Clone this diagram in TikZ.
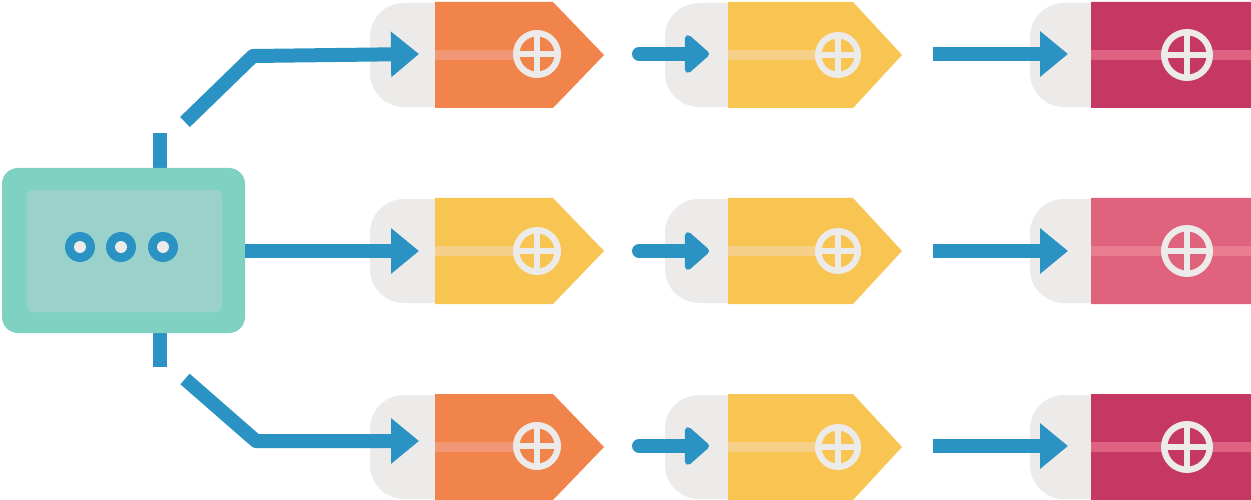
\documentclass[tikz,border=0pt]{standalone}
\usetikzlibrary{arrows.meta}
\definecolor{cblue}{HTML}{2B93C3}
\definecolor{cgray}{HTML}{EDEBEA}
\definecolor{cgreen}{HTML}{7FD1C1}
\definecolor{clgreen}{HTML}{9AD2CB}
\definecolor{corange}{HTML}{F0844A}
\definecolor{corangest}{HTML}{F29775}
\definecolor{cyellow}{HTML}{F8C552}
\definecolor{cyellowst}{HTML}{F6D088}
\definecolor{ccrimson}{HTML}{C63864}
\definecolor{ccrimsonst}{HTML}{DE6382}
\definecolor{cpink}{HTML}{E0637E}
\definecolor{cpinkst}{HTML}{EA7D90}
\tikzset{
  arr/.style={draw=cblue, line width=14pt, line join=round, -{Triangle[length=28pt,width=44pt]}},
  sarr/.style={draw=cblue, line width=14pt, line cap=round, line join=round, -{Triangle[length=26pt,width=44pt,round]}},
  hubbox/.style={fill=cgreen, rounded corners=16pt, inner sep=0pt},
  hubinner/.style={fill=clgreen, rounded corners=6pt, inner sep=0pt},
}
% icon: #1 x, #2 y, #3 radius, #4 colour
\newcommand\myicon[4]{%
  \fill[cgray] (#1,#2) circle (#3);
  \fill[#4] (#1,#2) circle (#3-6.5);
  \fill[cgray] (#1-#3+1,#2-2.8) rectangle (#1+#3-1,#2+2.8);
  \fill[cgray] (#1-2.8,#2-#3+1) rectangle (#1+2.8,#2+#3-1);
}
% #1 gray left x, #2 rect start x, #3 rect end x, #4 tip x, #5 center y, #6 colour, #7 stripe colour, #8 stripe end x
\newcommand\mytag[8]{%
  \fill[cgray, rounded corners=34pt] (#1,#5-52) rectangle (#2+40,#5+52);
  \fill[#6] (#2,#5-53) -- (#3,#5-53) -- (#4,#5) -- (#3,#5+53) -- (#2,#5+53) -- cycle;
  \fill[#7] (#2,#5-5) rectangle (#8,#5+5);
}
\begin{document}
\begin{tikzpicture}[x=1pt,y=-1pt]
\useasboundingbox (0,0) rectangle (1251,500);
% stubs
\fill[cblue] (153,133) rectangle (167,170);
\fill[cblue] (153,331) rectangle (167,367);
% hub
\node[hubbox, minimum width=243pt, minimum height=165pt] (hub) at (123.5,250.5) {};
\node[hubinner, minimum width=195pt, minimum height=122pt] (hubin) at (124.5,251) {};
\foreach \x/\n in {80/d1,121/d2,163/d3}{
  \fill[cblue] (\x,247) circle (15);
  \fill[cgray] (\x,247) circle (6);
}
% row 1
\mytag{370}{435}{553}{604}{55}{corange}{corangest}{537}
\myicon{537}{54}{24}{corange}
\mytag{665}{728}{853}{902}{55}{cyellow}{cyellowst}{838}
\myicon{838}{55}{23}{cyellow}
\mytag{1030}{1091}{1251}{1251}{55}{ccrimson}{ccrimsonst}{1251}
\myicon{1187}{55}{26}{ccrimson}
% row 2
\mytag{370}{435}{553}{604}{251}{cyellow}{cyellowst}{537}
\myicon{537}{251}{24}{cyellow}
\mytag{665}{728}{853}{902}{251}{cyellow}{cyellowst}{838}
\myicon{838}{251}{23}{cyellow}
\mytag{1030}{1091}{1251}{1251}{251}{cpink}{cpinkst}{1251}
\myicon{1187}{251}{26}{cpink}
% row 3
\mytag{370}{435}{553}{604}{447}{corange}{corangest}{537}
\myicon{537}{446}{24}{corange}
\mytag{665}{728}{853}{902}{447}{cyellow}{cyellowst}{838}
\myicon{838}{447}{23}{cyellow}
\mytag{1030}{1091}{1251}{1251}{447}{ccrimson}{ccrimsonst}{1251}
\myicon{1187}{447}{26}{ccrimson}
% connector end points
\coordinate (s1) at (185,122);
\coordinate (b1) at (253,56);
\coordinate (t11) at (419,54);
\coordinate (t21) at (419,251);
\coordinate (s3) at (185,379);
\coordinate (b3) at (256,441);
\coordinate (t31) at (419,441);
\foreach \r/\y in {1/54,2/251,3/446}{
  \coordinate (u\r) at (639,\y);
  \coordinate (t\r2) at (709,\y);
  \coordinate (v\r) at (933,\y);
  \coordinate (t\r3) at (1068,\y);
}
% connectors
\draw[arr] (s1) -- (b1) -- (t11);
\draw[arr] (hub.east |- t21) -- (t21);
\draw[arr] (s3) -- (b3) -- (t31);
\foreach \r in {1,2,3}{
  \draw[sarr] (u\r) -- (t\r2);
  \draw[arr] (v\r) -- (t\r3);
}
\end{tikzpicture}
\end{document}
